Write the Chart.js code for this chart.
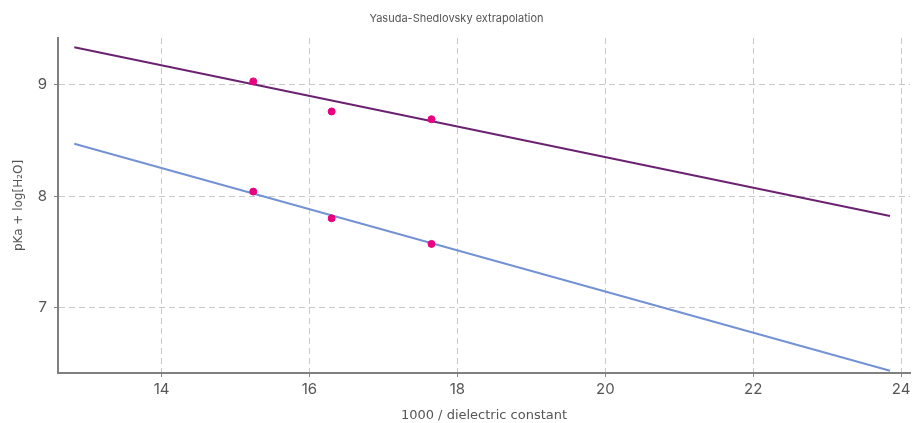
<!DOCTYPE html>
<html>
<head>
<meta charset="utf-8">
<script src="https://cdn.jsdelivr.net/npm/chart.js@4"></script>
<style>
  html, body { margin: 0; padding: 0; background: #fff; }
  #wrap { width: 915px; height: 423px; }
</style>
</head>
<body>
<div id="wrap"><canvas id="chart"></canvas></div>
<script>
// measured points
const pointsX = [15.24, 16.30, 17.65];
const upperY = [9.03, 8.76, 8.69];
const lowerY = [8.04, 7.80, 7.57];

// fitted lines (end points of the extrapolation)
const fitX = [12.82, 23.85];
const upperFitY = [9.336, 7.82];
const lowerFitY = [8.47, 6.43];

const xTicks = [14, 16, 18, 20, 22, 24];
const yTicks = [7, 8, 9];

const pointColor = "#e8007f";
const upperColor = "#6b2270";
const lowerColor = "#7392d4";

const toXY = (xs, ys) => xs.map((x, i) => ({ x, y: ys[i] }));

const axisFont = { family: "Inter, 'DejaVu Sans', sans-serif", size: 15 };
const titleFont = { family: "Inter, 'DejaVu Sans', sans-serif", size: 11, weight: "normal" };
const xTitleFont = { family: "'DejaVu Sans', sans-serif", size: 13 };
const yTitleFont = { family: "'DejaVu Sans', sans-serif", size: 12 };

new Chart(document.getElementById("chart"), {
    type: "scatter",
    data: {
        datasets: [
            {
                label: "points upper",
                data: toXY(pointsX, upperY),
                backgroundColor: pointColor,
                borderColor: pointColor,
                pointRadius: 3.5,
                order: 0
            },
            {
                label: "points lower",
                data: toXY(pointsX, lowerY),
                backgroundColor: pointColor,
                borderColor: pointColor,
                pointRadius: 3.5,
                order: 0
            },
            {
                label: "fit upper",
                data: toXY(fitX, upperFitY),
                showLine: true,
                borderColor: upperColor,
                borderWidth: 2,
                pointRadius: 0,
                order: 1
            },
            {
                label: "fit lower",
                data: toXY(fitX, lowerFitY),
                showLine: true,
                borderColor: lowerColor,
                borderWidth: 2,
                pointRadius: 0,
                order: 1
            }
        ]
    },
    options: {
        responsive: true,
        maintainAspectRatio: false,
        animation: false,
        layout: { padding: { left: 0, right: 2, top: 0, bottom: 0 } },
        plugins: {
            legend: { display: false },
            tooltip: { enabled: false },
            title: {
                display: true,
                text: "Yasuda-Shedlovsky extrapolation",
                color: "#555",
                font: titleFont,
                padding: { top: 12, bottom: 12.8 }
            }
        },
        scales: {
            x: {
                type: "linear",
                min: 12.6,
                max: 24.12,
                afterFit(scale) { scale.height = 50; },
                afterBuildTicks(scale) { scale.ticks = xTicks.map(v => ({ value: v })); },
                ticks: { color: "#555", font: axisFont, padding: 3, includeBounds: false },
                grid: { color: "#c8c8c8", tickColor: "#888", tickLength: 4, tickBorderDash: [] },
                border: { display: true, color: "#808080", width: 2, dash: [6, 4] },
                title: {
                    display: true,
                    text: "1000 / dielectric constant",
                    color: "#555",
                    font: xTitleFont,
                    padding: { top: 6, bottom: 0 }
                }
            },
            y: {
                type: "linear",
                min: 6.41,
                max: 9.42,
                afterFit(scale) { scale.width = 58; },
                afterBuildTicks(scale) { scale.ticks = yTicks.map(v => ({ value: v })); },
                ticks: { color: "#555", font: axisFont, padding: 7, includeBounds: false },
                grid: { color: "#c8c8c8", tickColor: "#888", tickLength: 4, tickBorderDash: [] },
                border: { display: true, color: "#808080", width: 2, dash: [6, 4] },
                title: {
                    display: true,
                    text: "pKa + log[H₂O]",
                    color: "#555",
                    font: yTitleFont,
                    padding: { top: 12, bottom: 0 }
                }
            }
        }
    }
});
</script>
</body>
</html>
